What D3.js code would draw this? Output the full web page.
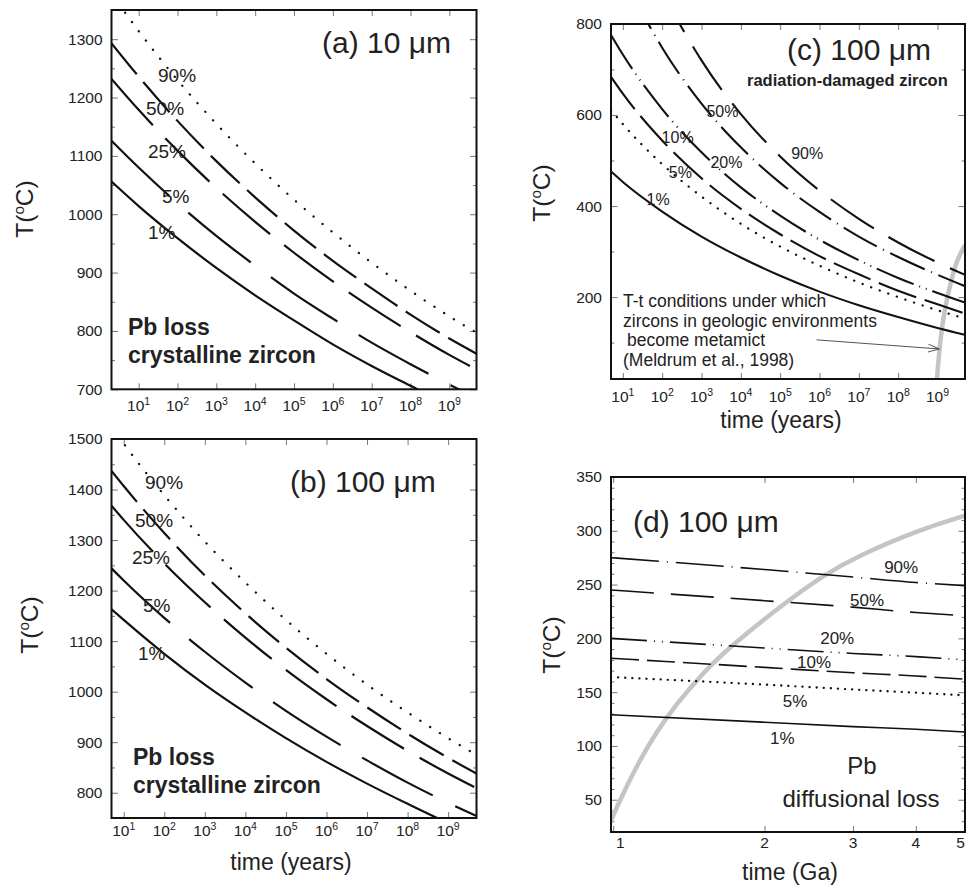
<!DOCTYPE html>
<html>
<head>
<meta charset="utf-8">
<title>Pb loss in zircon</title>
<script src="https://cdn.jsdelivr.net/npm/d3@7"></script>
<style>
  body { margin: 0; background: #fff; }
  text { font-family: "Liberation Sans", Arial, Helvetica, sans-serif; fill: #222; }
</style>
</head>
<body>
<div id="chart"></div>
<script>
// ---- values ----
// time points (years) for panels a-c, Ga for panel d
var timeA = [2, 1e1, 1e2, 1e3, 1e4, 1e5, 1e6, 1e7, 1e8, 1e9, 5e9];
var timeBC = [5, 1e1, 1e2, 1e3, 1e4, 1e5, 1e6, 1e7, 1e8, 1e9, 5e9];
var timeD = [0.99, 2, 3, 4, 5.01];

// (a) 10 um, crystalline zircon, T in C
var a90 = [1378, 1314, 1230, 1155, 1087, 1025, 969, 917, 869, 825, 797];
var a50 = [1293, 1236, 1160, 1091, 1029, 972, 920, 873, 828, 787, 761];
var a25 = [1232, 1179, 1109, 1045, 987, 934, 885, 840, 798, 759, 734];
var a05 = [1126, 1080, 1019, 963, 912, 864, 821, 780, 743, 708, 685];
var a01 = [1056, 1014, 959, 908, 861, 818, 777, 740, 706, 673, 652];
var labelsA = ["90%", "50%", "25%", "5%", "1%"];

// (b) 100 um, crystalline zircon
var b90 = [1525, 1491, 1389, 1297, 1216, 1142, 1075, 1014, 959, 908, 875];
var b50 = [1437, 1407, 1314, 1230, 1155, 1087, 1025, 969, 917, 869, 838];
var b25 = [1368, 1340, 1254, 1177, 1107, 1043, 985, 932, 883, 838, 809];
var b05 = [1244, 1220, 1146, 1079, 1018, 962, 911, 864, 820, 780, 754];
var b01 = [1163, 1142, 1075, 1014, 959, 908, 861, 818, 778, 740, 716];
var labelsB = ["90%", "50%", "25%", "5%", "1%"];

// (c) 100 um, radiation-damaged zircon
var c90 = [1167, 1087, 875, 720, 602, 509, 434, 372, 320, 276, 249];
var c50 = [969, 910, 748, 625, 529, 451, 387, 333, 288, 249, 224];
var c20 = [776, 733, 613, 518, 441, 379, 326, 281, 242, 209, 188];
var c10 = [684, 647, 544, 461, 394, 338, 290, 250, 214, 184, 164];
var c05 = [611, 580, 492, 421, 361, 311, 269, 232, 200, 171, 153];
var c01 = [476, 453, 388, 333, 287, 247, 212, 182, 156, 132, 117];
var labelsC = ["90%", "50%", "20%", "10%", "5%", "1%"];

// (d) 100 um, diffusional loss over 1-5 Ga
var d90 = [275, 264, 257, 252, 249];
var d50 = [245, 235, 229, 224, 221];
var d20 = [200, 191, 186, 183, 180];
var d10 = [181.5, 173, 168, 165, 162];
var d05 = [164, 157, 152.5, 149.5, 147];
var d01 = [129, 122, 118, 115.5, 113];
var labelsD = ["90%", "50%", "20%", "10%", "5%", "1%"];

// metamict boundary (Meldrum et al., 1998), time in Ga
var metaGa = [0.97, 0.99, 1.047, 1.13, 1.219, 1.336, 1.509, 1.704, 2.208, 2.61, 3.04, 4.12, 5.01];
var metaT = [20, 31, 56, 87, 113, 139, 168, 192, 234, 258, 276, 302, 314];

// label anchors for the curve names, [time, T]
var labelAtA = [[31.5, 1227], [15.5, 1170], [17.4, 1096], [39.9, 1019], [17.4, 958]];
var labelAtB = [[33.5, 1402], [19, 1326], [16, 1253], [29.9, 1158], [22.5, 1063]];
var labelAtC = [[1.91e5, 503], [1334, 596], [1687, 484], [96.6, 539], [148, 461], [40.2, 402]];
var labelAtD = [[3.74, 260.5], [3.2, 230.4], [2.79, 194.8], [2.51, 172.7], [2.3, 136.5], [2.17, 101.8]];

// ticks
var decades = [1e1, 1e2, 1e3, 1e4, 1e5, 1e6, 1e7, 1e8, 1e9];
var gaTicks = [1, 2, 3, 4, 5];

// ---- layout ----
var W = 966, H = 890;
var svg = d3.select("#chart").append("svg")
	.attr("width", W)
	.attr("height", H);
svg.append("rect").attr("width", W).attr("height", H).attr("fill", "#fff");

var DOT = "0.1,11.5";
var panels = [
	{
		id: "a", left: 111.5, right: 476.5, top: 10, bottom: 389.3,
		xDomain: [2, 5e9], yDomain: [700, 1350], xTicks: decades, pow: true,
		yMajor: d3.range(700, 1301, 100), yMinor: d3.range(750, 1301, 100),
		times: timeA, series: [a90, a50, a25, a05, a01], labels: labelsA, labelAt: labelAtA,
		dash: [DOT, "40,10", "62,18", "80,25", null], width: 2.2, labelSize: 19, labelAnchor: "start",
		xLabelGap: 22, yTitle: [33, 209], title: "(a) 10 μm", titlePos: [322, 53]
	},
	{
		id: "b", left: 111.5, right: 476.5, top: 439, bottom: 818,
		xDomain: [5, 5e9], yDomain: [750, 1500], xTicks: decades, pow: true,
		yMajor: d3.range(800, 1501, 100), yMinor: d3.range(750, 1451, 100),
		times: timeBC, series: [b90, b50, b25, b05, b01], labels: labelsB, labelAt: labelAtB,
		dash: [DOT, "40,10", "62,18", "80,25", null], width: 2.2, labelSize: 19, labelAnchor: "start",
		xLabelGap: 18, yTitle: [38, 625], title: "(b) 100 μm", titlePos: [290, 492],
		xTitle: "time (years)", xTitlePos: [291, 870]
	},
	{
		id: "c", left: 611, right: 965, top: 24, bottom: 379,
		xDomain: [5, 5e9], yDomain: [20, 800], xTicks: decades, pow: true,
		yMajor: [200, 400, 600, 800], yMinor: [100, 300, 500, 700],
		times: timeBC, series: [c90, c50, c20, c10, c05, c01], labels: labelsC, labelAt: labelAtC,
		dash: ["52,17", "38,7,1,7", "40,6,1,6,1,6", "40,9", "0.1,9", null], width: 2.1, labelSize: 16, labelAnchor: "start",
		xLabelGap: 23, yTitle: [550, 193], title: "(c) 100 μm", titlePos: [787, 60],
		xTitle: "time (years)", xTitlePos: [781, 428], meta: 1e9
	},
	{
		id: "d", left: 611, right: 965, top: 477, bottom: 832,
		xDomain: [0.99, 5.01], yDomain: [20, 350], xTicks: gaTicks, pow: false,
		yMajor: d3.range(50, 351, 50), yMinor: d3.range(30, 350, 10).filter(function(v) {return v % 50 != 0;}),
		times: timeD, series: [d90, d50, d20, d10, d05, d01], labels: labelsD, labelAt: labelAtD,
		dash: ["48,8,1,8", "43,17", "36,7,1,7,1,7", "28,8", "0.1,7", null], width: 1.6, labelSize: 17, labelAnchor: "middle",
		xLabelGap: 16, yTitle: [560, 645], title: "(d) 100 μm", titlePos: [633, 532],
		xTitle: "time (Ga)", xTitlePos: [790, 880], meta: 1
	}
];

svg.append("defs").append("marker")
	.attr("id", "arrow")
	.attr("viewBox", "0 0 12 10")
	.attr("refX", 11).attr("refY", 5)
	.attr("markerWidth", 12).attr("markerHeight", 10)
	.attr("markerUnits", "userSpaceOnUse")
	.attr("orient", "auto")
	.append("path")
	.attr("d", "M0,1 L11,5 L0,9")
	.attr("fill", "none")
	.attr("stroke", "#555")
	.attr("stroke-width", 1);

function tickAxis(g, axis, tf) {
	var a = g.append("g").attr("transform", tf).call(axis);
	a.select(".domain").remove();
	a.selectAll("line").attr("stroke", "#777").attr("stroke-width", 1);
	return a;
}

function superT(sel, size) {
	// T(°C) with a raised small o
	sel.append("tspan").text("T(");
	sel.append("tspan").attr("dy", -size * 0.38).attr("font-size", size * 0.62).text("o");
	sel.append("tspan").attr("dy", size * 0.38).text("C)");
}

panels.forEach(function(p) {
	var x = d3.scaleLog().domain(p.xDomain).range([p.left, p.right]);
	var y = d3.scaleLinear().domain(p.yDomain).range([p.bottom, p.top]);
	var g = svg.append("g").attr("class", "panel-" + p.id);

	svg.select("defs").append("clipPath").attr("id", "clip-" + p.id)
		.append("rect")
		.attr("x", p.left).attr("y", p.top)
		.attr("width", p.right - p.left).attr("height", p.bottom - p.top);

	// inward ticks on all four sides
	tickAxis(g, d3.axisBottom(x).tickValues(p.xTicks).tickSize(-6).tickFormat(""), "translate(0," + p.bottom + ")");
	tickAxis(g, d3.axisTop(x).tickValues(p.xTicks).tickSize(-6).tickFormat(""), "translate(0," + p.top + ")");
	tickAxis(g, d3.axisLeft(y).tickValues(p.yMinor).tickSize(-3.5).tickFormat(""), "translate(" + p.left + ",0)");
	tickAxis(g, d3.axisRight(y).tickValues(p.yMinor).tickSize(-3.5).tickFormat(""), "translate(" + p.right + ",0)");
	tickAxis(g, d3.axisRight(y).tickValues(p.yMajor).tickSize(-6.5).tickFormat(""), "translate(" + p.right + ",0)");
	var yl = tickAxis(g, d3.axisLeft(y).tickValues(p.yMajor).tickSize(-6.5).tickPadding(9).tickFormat(d3.format("d")),
		"translate(" + p.left + ",0)");
	yl.selectAll("text")
		.attr("font-size", 15.5)
		.style("font-family", "'Liberation Sans', Arial, sans-serif")
		.attr("fill", "#333");

	// x tick labels
	g.selectAll(".xl").data(p.xTicks).enter().append("text")
		.attr("class", "xl")
		.attr("x", function(d) {
			if (!p.pow && d == 1) return x(d) + 7;
			if (!p.pow && d == 5) return x(d) - 4;
			return x(d);
		})
		.attr("y", p.bottom + p.xLabelGap)
		.attr("text-anchor", "middle")
		.attr("font-size", 15.5)
		.attr("fill", "#333")
		.each(function(d) {
			var t = d3.select(this);
			if (p.pow) {
				t.append("tspan").text("10");
				t.append("tspan").attr("dy", -6.5).attr("font-size", 10.5).text(Math.round(Math.log10(d)));
			} else {
				t.text(d);
			}
		});

	var plot = g.append("g").attr("clip-path", "url(#clip-" + p.id + ")");

	// metamict boundary (times in Ga scaled to the panel's unit)
	if (p.meta) {
		var metaPts = metaGa.map(function(t, i) {return [t * p.meta, metaT[i]];});
		plot.append("path")
			.datum(metaPts)
			.attr("d", d3.line()
				.x(function(d) {return x(d[0]);})
				.y(function(d) {return y(d[1]);})
				.curve(d3.curveBasis))
			.attr("fill", "none")
			.attr("stroke", "#c4c4c4")
			.attr("stroke-width", 4.5);
	}

	var line = d3.line()
		.x(function(d) {return x(d[0]);})
		.y(function(d) {return y(d[1]);})
		.curve(d3.curveMonotoneX);

	p.series.forEach(function(vals, i) {
		var pts = vals.map(function(v, j) {return [p.times[j], v];});
		var dotted = p.dash[i] && p.dash[i].indexOf("0.1,") == 0;
		plot.append("path")
			.datum(pts)
			.attr("d", line)
			.attr("fill", "none")
			.attr("stroke", "#111")
			.attr("stroke-width", dotted ? 2.3 : p.width)
			.attr("stroke-linecap", dotted ? "round" : "butt")
			.attr("stroke-dasharray", p.dash[i]);
	});

	// curve labels
	g.selectAll(".cl").data(p.labels).enter().append("text")
		.attr("class", "cl")
		.attr("x", function(d, i) {return x(p.labelAt[i][0]);})
		.attr("y", function(d, i) {return y(p.labelAt[i][1]);})
		.attr("text-anchor", p.labelAnchor)
		.attr("font-size", p.labelSize)
		.attr("fill", "#333")
		.text(function(d) {return d;});

	// frame
	g.append("rect")
		.attr("x", p.left).attr("y", p.top)
		.attr("width", p.right - p.left).attr("height", p.bottom - p.top)
		.attr("fill", "none")
		.attr("stroke", "#111")
		.attr("stroke-width", 2);

	// titles
	g.append("text")
		.attr("x", p.titlePos[0]).attr("y", p.titlePos[1])
		.attr("font-size", 30)
		.text(p.title);

	var yt = g.append("text")
		.attr("transform", "translate(" + p.yTitle[0] + "," + p.yTitle[1] + ") rotate(-90)")
		.attr("text-anchor", "middle")
		.attr("font-size", 24.5);
	superT(yt, 24.5);

	if (p.xTitle) {
		g.append("text")
			.attr("x", p.xTitlePos[0]).attr("y", p.xTitlePos[1])
			.attr("text-anchor", "middle")
			.attr("font-size", 23)
			.text(p.xTitle);
	}

	// annotations
	if (p.id == "a" || p.id == "b") {
		var bx = p.id == "a" ? 128 : 133, by = p.id == "a" ? 335 : 765;
		g.append("text").attr("x", bx).attr("y", by)
			.attr("font-size", 23).attr("font-weight", "bold").text("Pb loss");
		g.append("text").attr("x", bx).attr("y", by + 28)
			.attr("font-size", 23).attr("font-weight", "bold").text("crystalline zircon");
	}
	if (p.id == "c") {
		g.append("text").attr("x", 747).attr("y", 86)
			.attr("font-size", 16.5).attr("font-weight", "bold").text("radiation-damaged zircon");
		var note = ["T-t conditions under which", "zircons in geologic environments", " become metamict", "(Meldrum et al., 1998)"];
		g.selectAll(".note").data(note).enter().append("text")
			.attr("class", "note")
			.attr("x", function(d, i) {return i == 2 ? 627 : 623;})
			.attr("y", function(d, i) {return 307 + i * 19.5;})
			.attr("font-size", 17.5)
			.attr("fill", "#333")
			.text(function(d) {return d;});
		g.append("line")
			.attr("x1", x(8.4e5)).attr("y1", y(106))
			.attr("x2", x(1.1e9)).attr("y2", y(86))
			.attr("stroke", "#555")
			.attr("stroke-width", 1)
			.attr("marker-end", "url(#arrow)");
	}
	if (p.id == "d") {
		g.append("text").attr("x", 862).attr("y", 774)
			.attr("text-anchor", "middle").attr("font-size", 24).text("Pb");
		g.append("text").attr("x", 861).attr("y", 807)
			.attr("text-anchor", "middle").attr("font-size", 24).text("diffusional loss");
	}
});
</script>
</body>
</html>
